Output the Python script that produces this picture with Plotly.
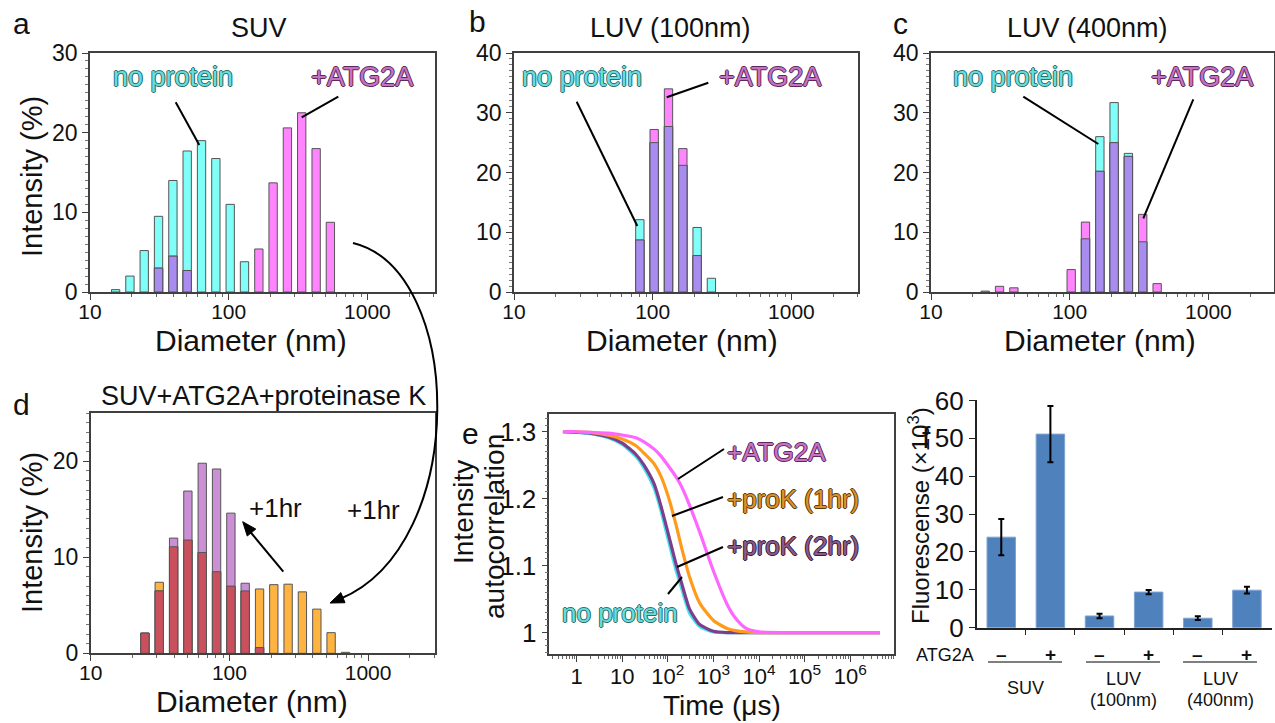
import plotly.graph_objects as go
import numpy as np

W, H = 1275, 723
def px(x): return x / W
def py(y): return 1 - y / H

FONT = "Liberation Sans, Arial, sans-serif"

# ---------------- data ----------------
# DLS size bins (nm)
diameters = [15.3, 19.4, 24.6, 31.2, 39.6, 50.2, 63.7, 80.8, 102.5, 130, 165, 209, 265, 336, 427, 541, 687]

suv_no_protein = [0.3, 2.0, 5.2, 9.5, 14.0, 17.7, 19.0, 16.75, 11.0, 3.8, 0, 0, 0, 0, 0, 0, 0]
suv_atg2a      = [0, 0, 0, 3.0, 4.5, 2.7, 0, 0, 0, 0, 5.4, 13.7, 20.6, 22.5, 18.0, 8.75, 0]
luv100_no_protein = [0, 0, 0, 0, 0, 0, 0, 12.1, 25.0, 27.7, 21.2, 10.8, 2.3, 0, 0, 0, 0]
luv100_atg2a      = [0, 0, 0, 0, 0, 0, 0, 8.7, 27.2, 34.0, 24.0, 6.1, 0, 0, 0, 0, 0]
luv400_no_protein = [0, 0, 0.15, 0, 0, 0, 0, 0, 0, 8.9, 26.0, 31.7, 23.2, 8.4, 0, 0, 0]
luv400_atg2a      = [0, 0, 0, 0.95, 0.7, 0, 0, 0, 3.75, 11.7, 20.2, 25.0, 22.7, 13.0, 1.4, 0, 0]
prok_1hr = [0, 0, 2.1, 7.4, 11.1, 11.8, 10.5, 8.5, 7.0, 6.5, 6.7, 7.15, 7.2, 6.4, 4.6, 2.15, 0.1]
prok_2hr = [0, 0, 2.1, 6.5, 12.0, 16.9, 19.8, 19.2, 14.6, 7.3, 0.6, 0, 0, 0, 0, 0, 0]

# autocorrelation curves
time_us = [0.5, 1, 2, 5, 10, 20, 30, 50, 70, 100, 150, 200, 300, 500, 1000, 2000, 3000, 5000, 1e4, 1e5, 1e6, 4.5e6]
g2_no_protein = [1.300, 1.299, 1.297, 1.291, 1.281, 1.263, 1.246, 1.216, 1.183, 1.141, 1.094, 1.066, 1.029, 1.009, 1.001, 1.000, 1.000, 1.000, 1.000, 1.000, 1.000, 1.000]
g2_prok_2hr   = [1.300, 1.299, 1.298, 1.292, 1.283, 1.266, 1.250, 1.222, 1.190, 1.150, 1.103, 1.074, 1.035, 1.012, 1.002, 1.000, 1.000, 1.000, 1.000, 1.000, 1.000, 1.000]
g2_prok_1hr   = [1.300, 1.300, 1.299, 1.295, 1.289, 1.279, 1.268, 1.252, 1.234, 1.205, 1.162, 1.127, 1.083, 1.044, 1.018, 1.006, 1.003, 1.001, 1.000, 1.000, 1.000, 1.000]
g2_atg2a      = [1.300, 1.300, 1.299, 1.298, 1.295, 1.291, 1.285, 1.274, 1.264, 1.250, 1.233, 1.218, 1.190, 1.150, 1.092, 1.042, 1.022, 1.007, 1.001, 1.000, 1.000, 1.000]

# fluorescence
fl_conditions = ["SUV −", "SUV +", "LUV100 −", "LUV100 +", "LUV400 −", "LUV400 +"]
fl_signs = ["–", "+", "–", "+", "–", "+"]
fl_mean = [23.9, 51.1, 3.1, 9.4, 2.5, 9.9]
fl_err = [4.8, 7.4, 0.6, 0.55, 0.5, 0.9]

# ---------------- styling ----------------
C_CYAN = "#80FFF8"
C_MAG = "#FF85FF"
C_OVL = "#A98CF0"
C_ORG = "#FFB340"
C_PUR = "#CB8FD6"
C_RED = "#C9505C"
EDGE = "#555555"
AXC = "#404040"

logd = np.log10(diameters)
BW = 0.06

def nz(v):
    return [x if x > 0 else None for x in v]

fig = go.Figure()

def add_hist(xa, ya, s1, s2, c1, c2, cov):
    ov = [min(a, b) for a, b in zip(s1, s2)]
    for vals, col in ((s1, c1), (s2, c2), (ov, cov)):
        fig.add_trace(go.Bar(x=logd, y=nz(vals), width=BW, xaxis=xa, yaxis=ya,
                             marker=dict(color=col, line=dict(color=EDGE, width=1)),
                             hoverinfo="skip"))

add_hist("x", "y", suv_no_protein, suv_atg2a, C_CYAN, C_MAG, C_OVL)
add_hist("x2", "y2", luv100_no_protein, luv100_atg2a, C_CYAN, C_MAG, C_OVL)
add_hist("x3", "y3", luv400_no_protein, luv400_atg2a, C_CYAN, C_MAG, C_OVL)
add_hist("x4", "y4", prok_1hr, prok_2hr, C_ORG, C_PUR, C_RED)

for vals, col in ((g2_no_protein, "#45E3EE"), (g2_prok_2hr, "#7B3F8E"),
                  (g2_prok_1hr, "#FF9A1A"), (g2_atg2a, "#FF66FF")):
    fig.add_trace(go.Scatter(x=time_us, y=vals, mode="lines", xaxis="x5", yaxis="y5",
                             line=dict(color=col, width=3.2, shape="spline", smoothing=0.6),
                             hoverinfo="skip"))

fig.add_trace(go.Bar(x=list(range(6)), y=fl_mean, width=0.58, xaxis="x6", yaxis="y6",
                     marker=dict(color="#4F81BD", line=dict(color="#7FA3D0", width=1)),
                     error_y=dict(type="data", array=fl_err, color="black", thickness=2, width=3),
                     hoverinfo="skip"))

# ---------------- axes ----------------
minor_log = [np.log10(k * 10 ** n) for n in (1, 2, 3) for k in range(2, 10) if k * 10 ** n <= 3000]

def base_axis(**kw):
    d = dict(showline=True, linecolor=AXC, linewidth=1.5, mirror=True, ticks="outside",
             ticklen=6, tickwidth=1.2, tickcolor=AXC, showgrid=False, zeroline=False,
             automargin=False, tickfont=dict(family=FONT, size=21, color="#111"))
    d.update(kw)
    return d

def xdiam(x0, x1, anchor):
    return base_axis(domain=[px(x0), px(x1)], range=[1, 1 + (x1 - x0) / 138.7], anchor=anchor,
                     tickmode="array", tickvals=[1, 2, 3], ticktext=["10", "100", "1000"],
                     ticklabelstandoff=-6,
                     minor=dict(tickmode="array", tickvals=minor_log, ticks="outside", ticklen=3,
                                tickcolor="#666", tickwidth=1))

def yint(y0, y1, rng, dt, anchor):
    return base_axis(domain=[py(y1), py(y0)], range=rng, anchor=anchor, dtick=dt,
                     tickfont=dict(family=FONT, size=23, color="#111"),
                     minor=dict(dtick=1, ticks="outside", ticklen=3, tickcolor="#777", tickwidth=1))

ROW1 = (53, 292)
fig.update_layout(
    xaxis=xdiam(90, 435, "y"), yaxis=yint(*ROW1, [0, 30], 10, "x"),
    xaxis2=xdiam(514, 858, "y2"), yaxis2=yint(*ROW1, [0, 40], 10, "x2"),
    xaxis3=xdiam(931, 1274, "y3"), yaxis3=yint(*ROW1, [0, 40], 10, "x3"),
    xaxis4=xdiam(90.7, 435, "y4"), yaxis4=yint(413.3, 653.3, [0, 25], 10, "x4"),
    xaxis5=base_axis(domain=[px(549.3), px(894)], type="log", range=[-0.6, 6.96], anchor="y5",
                     tickmode="array", tickvals=[1, 10, 100, 1e3, 1e4, 1e5, 1e6],
                     ticktext=["1", "10", "10<sup>2</sup>", "10<sup>3</sup>", "10<sup>4</sup>",
                               "10<sup>5</sup>", "10<sup>6</sup>"],
                     ticklabelstandoff=-4,
                     tickfont=dict(family=FONT, size=22, color="#111"),
                     minor=dict(tickmode="array",
                                tickvals=[k * 10.0 ** n for n in range(-1, 7) for k in range(2, 10)],
                                ticks="outside", ticklen=3, tickcolor="#666", tickwidth=1)),
    yaxis5=base_axis(domain=[py(654), py(414)], range=[0.968, 1.3265], anchor="x5",
                     tickmode="array", tickvals=[1, 1.1, 1.2, 1.3], ticktext=["1", "1.1", "1.2", "1.3"],
                     tickfont=dict(family=FONT, size=26, color="#111"),
                     minor=dict(dtick=0.01, ticks="outside", ticklen=3, tickcolor="#777", tickwidth=1)),
    xaxis6=dict(domain=[px(976.7), px(1271.5)], range=[-0.5, 5.5], anchor="y6", showline=True,
                linecolor="#222", linewidth=1.5, ticks="outside", ticklen=6, tickcolor="#222",
                tickmode="array", tickvals=[0.5, 1.5, 2.5, 3.5, 4.5], showticklabels=False,
                showgrid=False, zeroline=False, automargin=False),
    yaxis6=dict(domain=[py(627.7), py(400.4)], range=[0, 60], anchor="x6", showline=True,
                linecolor="#222", linewidth=1.5, ticks="outside", ticklen=6, tickcolor="#222",
                dtick=10, showgrid=False, zeroline=False, automargin=False,
                tickfont=dict(family=FONT, size=26, color="#111")),
)

# ---------------- annotations ----------------
ann = []
shapes = []

def text(x, y, s, size, color="#111", rot=0, xa="center", shadow=None):
    f = dict(family=FONT, size=size, color=color)
    if shadow:
        f["shadow"] = shadow
    ann.append(dict(x=px(x), y=py(y), xref="paper", yref="paper", text=s, showarrow=False,
                    font=f, textangle=rot, xanchor=xa, yanchor="middle"))

def outline(c):
    return f"-1px 0 0 {c}, 1px 0 0 {c}, 0 -1px 0 {c}, 0 1px 0 {c}"

def line(x0, y0, x1, y1, w=2):
    shapes.append(dict(type="line", xref="paper", yref="paper", x0=px(x0), y0=py(y0),
                       x1=px(x1), y1=py(y1), line=dict(color="black", width=w)))

def arrowhead(tx, ty, dx, dy, L=14, hw=5.5):
    n = (dx * dx + dy * dy) ** 0.5
    ux, uy = dx / n, dy / n
    bx, by = tx - L * ux, ty - L * uy
    p1 = (bx - hw * uy, by + hw * ux)
    p2 = (bx + hw * uy, by - hw * ux)
    shapes.append(dict(type="path", xref="paper", yref="paper",
                       path=f"M {px(tx)},{py(ty)} L {px(p1[0])},{py(p1[1])} L {px(p2[0])},{py(p2[1])} Z",
                       fillcolor="black", line=dict(color="black", width=1)))

NP = dict(color="#66DEDE", shadow=outline("#2D6E6E"))
AT = dict(color="#C572C5", shadow=outline("#5B2A5B"))
P1 = dict(color="#DB922C", shadow=outline("#5C3A0A"))
P2 = dict(color="#8C5A8C", shadow=outline("#3A1E3A"))

# panel letters
for s, x, y in (("a", 21, 23), ("b", 477, 21), ("c", 900, 23), ("d", 21, 404), ("e", 471, 433), ("f", 926, 437)):
    text(x, y, s, 30)

# titles
text(259, 28, "SUV", 27)
text(670, 28, "LUV (100nm)", 27)
text(1087, 28, "LUV (400nm)", 27)
text(263, 396, "SUV+ATG2A+proteinase K", 27)

# axis titles
for x in (251, 682, 1100):
    text(x, 340, "Diameter (nm)", 30)
text(252, 701, "Diameter (nm)", 30)
text(32, 177, "Intensity (%)", 29, rot=-90)
text(32, 533, "Intensity (%)", 29, rot=-90)
text(463, 512, "Intensity", 28, rot=-90)
text(494, 527, "autocorrelation", 28, rot=-90)
text(722, 705, "Time (μs)", 28)
text(919, 516, "Fluorescense (×10<sup>3</sup>)", 24, rot=-90)

# labels in histograms
for (xn, xa), (l1, l2) in (((173, 362), ((175.7, 102.3, 199.3, 145), (338.3, 96.7, 301.7, 117.3))),
                           ((582, 770), ((576.7, 101.7, 637.3, 226), (708.3, 82.7, 666.7, 97.3))),
                           ((1013, 1202), ((1023.3, 96.7, 1098.3, 144), (1193.3, 99.3, 1143.3, 218.3)))):
    text(xn, 77, "no protein", 27, **NP)
    text(xa, 77, "+ATG2A", 27, **AT)
    line(*l1)
    line(*l2)

# panel d annotations
text(275, 508, "+1hr", 26)
text(373, 510, "+1hr", 26)
line(283.3, 571.7, 250, 531.5)
arrowhead(242.7, 521.7, -40.6, -50)
shapes.append(dict(type="path", xref="paper", yref="paper",
                   path=f"M {px(353)},{py(243)} C {px(465)},{py(270)} {px(470)},{py(545)} {px(340)},{py(599)}",
                   line=dict(color="black", width=2)))
arrowhead(330, 603, -16, 6.6)

# panel e labels
text(725, 452, "+ATG2A", 26, xa="left", **AT)
text(725, 499, "+proK (1hr)", 26, xa="left", **P1)
text(725, 546, "+proK (2hr)", 26, xa="left", **P2)
text(620, 613, "no protein", 26, **NP)
line(678, 479, 724, 449)
line(672, 516, 723, 497)
line(677, 567, 723, 547)
line(668, 594, 682, 577)

# panel f labels
text(945, 655, "ATG2A", 18)
for i, s in enumerate(fl_signs):
    text(976.7 + 49 * (i + 0.5), 654, f"<b>{s}</b>", 19)
for x0, x1 in ((988, 1062), (1086, 1160), (1183, 1257)):
    line(x0, 662, x1, 662, w=1.2)
text(1025, 688, "SUV", 18)
text(1123, 679, "LUV", 18)
text(1123, 700, "(100nm)", 18)
text(1220, 679, "LUV", 18)
text(1220, 700, "(400nm)", 18)

fig.update_layout(width=W, height=H, margin=dict(l=0, r=0, t=0, b=0, autoexpand=False),
                  showlegend=False, barmode="overlay", plot_bgcolor="white", paper_bgcolor="white",
                  annotations=ann, shapes=shapes, font=dict(family=FONT))

fig.write_html("out.html", config={"displayModeBar": False},
               post_script="document.body.style.margin='0px';")
